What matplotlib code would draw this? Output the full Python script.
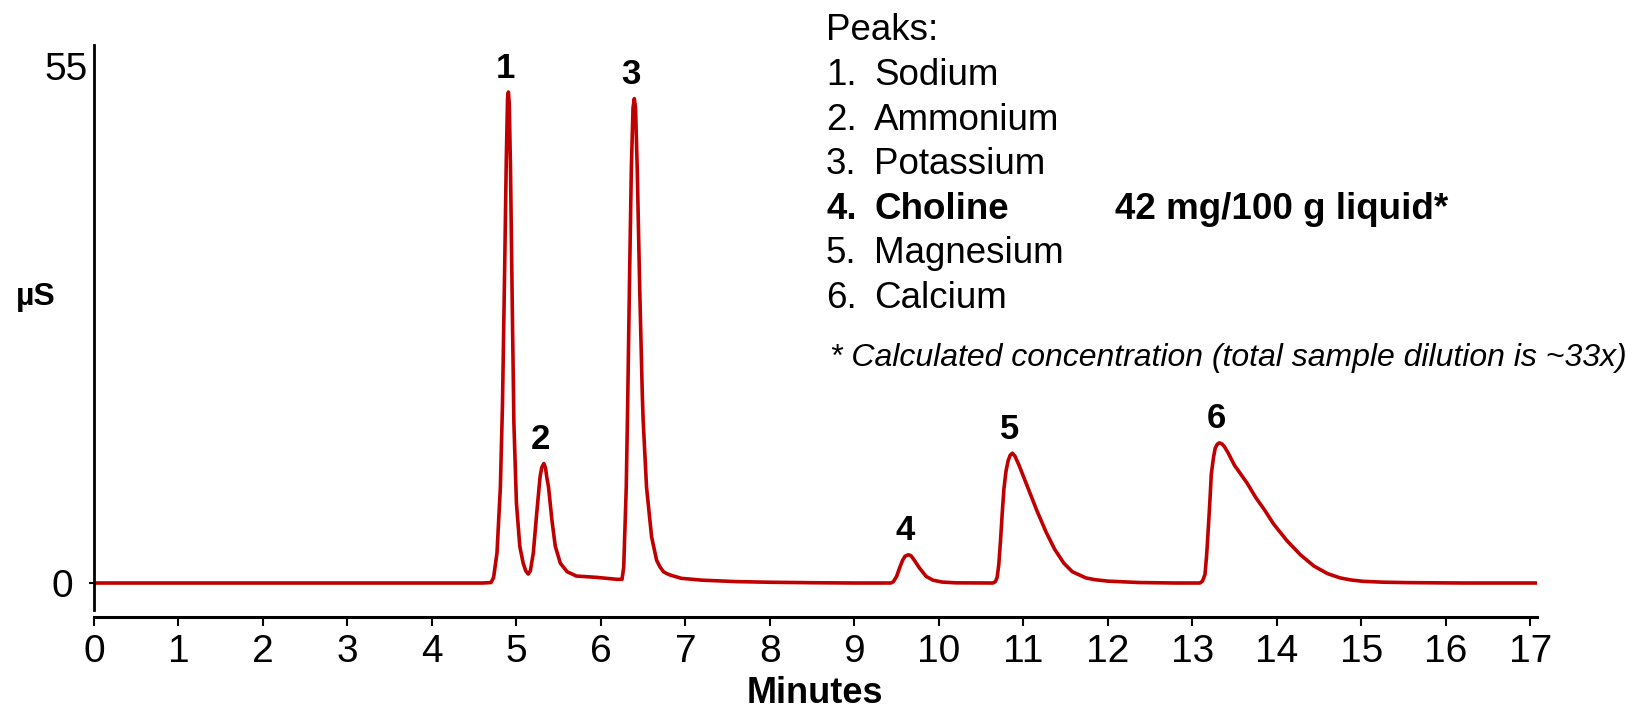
"""Cation chromatogram (conductivity vs. retention time) with peak legend."""
import matplotlib
matplotlib.use("Agg")
import matplotlib.pyplot as plt
from matplotlib.transforms import ScaledTranslation

plt.rcParams['font.family'] = ['Liberation Sans', 'DejaVu Sans']

# trace: retention time (min) and conductivity (uS)
TIME = [0.02, 1.0, 2.0, 3.0, 4.0, 4.60, 4.70, 4.73, 4.77, 4.81, 4.835, 4.86,
        4.88, 4.895, 4.905, 4.915, 4.93, 4.95, 4.97, 5.00, 5.04, 5.08, 5.11,
        5.14, 5.165, 5.20, 5.24, 5.28, 5.30, 5.325, 5.345, 5.36, 5.38, 5.42,
        5.46, 5.52, 5.60, 5.71, 5.95, 6.19, 6.25, 6.27, 6.30, 6.315, 6.34,
        6.36, 6.38, 6.395, 6.41, 6.43, 6.46, 6.49, 6.50, 6.54, 6.60, 6.66,
        6.70, 6.74, 6.78, 6.82, 6.95, 7.20, 7.60, 8.00, 8.50, 9.00, 9.43,
        9.46, 9.50, 9.535, 9.57, 9.60, 9.64, 9.67, 9.70, 9.77, 9.85, 9.93,
        10.04, 10.20, 10.64, 10.67, 10.69, 10.71, 10.73, 10.75, 10.77, 10.795,
        10.82, 10.845, 10.87, 10.90, 10.95, 11.05, 11.16, 11.27, 11.37, 11.48,
        11.58, 11.74, 11.85, 12.00, 12.37, 12.80, 13.09, 13.12, 13.15, 13.17,
        13.19, 13.21, 13.225, 13.25, 13.27, 13.295, 13.32, 13.35, 13.38, 13.42,
        13.46, 13.50, 13.54, 13.65, 13.75, 13.86, 13.96, 14.12, 14.28, 14.44,
        14.60, 14.75, 14.88, 15.02, 15.25, 15.55, 16.20, 17.08]
SIGNAL = [0.0, 0.0, 0.0, 0.0, 0.0, 0.0, 0.05, 0.6, 3.2, 10.2, 19.0, 33.0,
          45.0, 51.5, 52.2, 51.0, 44.0, 30.0, 17.0, 8.5, 3.9, 2.1, 1.3,
          0.95, 1.3, 3.2, 7.4, 11.3, 12.3, 12.7, 12.2, 11.2, 10.2, 6.7,
          3.9, 2.1, 1.2, 0.74, 0.6, 0.39, 0.39, 1.7, 10.2, 18.0, 33.0,
          44.0, 50.5, 51.5, 50.5, 44.0, 31.0, 20.0, 17.3, 10.2, 4.9, 2.4,
          1.7, 1.2, 1.0, 0.85, 0.5, 0.3, 0.15, 0.08, 0.03, 0.0, 0.0,
          0.12, 0.7, 1.6, 2.4, 2.85, 3.0, 2.9, 2.55, 1.6, 0.7, 0.3,
          0.1, 0.02, 0.0, 0.15, 0.6, 2.0, 4.5, 7.4, 10.0, 11.9,
          13.0, 13.6, 13.8, 13.5, 12.5, 10.2, 7.7, 5.4, 3.6, 2.1,
          1.2, 0.54, 0.35, 0.2, 0.05, 0.0, 0.0, 0.2, 0.9, 3.0,
          5.9, 9.0, 11.6, 13.3, 14.3, 14.75, 14.9, 14.8, 14.5, 13.9,
          13.2, 12.5, 12.0, 10.6, 9.1, 7.7, 6.3, 4.5, 3.0, 1.8,
          1.0, 0.54, 0.32, 0.18, 0.09, 0.04, 0.0, 0.0]

PEAK_TIME = [4.905, 5.325, 6.395, 9.64, 10.87, 13.32]
PEAK_HEIGHT = [52.2, 12.7, 51.5, 3.0, 13.8, 14.9]
PEAK_NUM = ["1", "2", "3", "4", "5", "6"]
PEAK_NAMES = ["Sodium", "Ammonium", "Potassium", "Choline", "Magnesium", "Calcium"]
CHOLINE_RESULT = "42 mg/100 g liquid*"
FOOTNOTE = "* Calculated concentration (total sample dilution is ~33x)"
X_TICKS = list(range(0, 18))
Y_TICKS = [0, 55]

W, H = 1626, 708
RED = "#C00000"

fig = plt.figure(figsize=(W / 100, H / 100), dpi=100)
ax = fig.add_axes([94 / W, 1 - 610 / H, (1537 - 94) / W, (610 - 45) / H])

ax.plot(TIME, SIGNAL, color=RED, lw=2.6, solid_joinstyle="round")
ax.set_xlim(0, 17.08)
ax.set_ylim(-2.87, 57.2)

for side in ("top", "right"):
    ax.spines[side].set_visible(False)
ax.spines["left"].set_linewidth(2.0)
ax.spines["bottom"].set_linewidth(2.2)
ax.spines["bottom"].set_position(("outward", 5))

ax.set_xticks(X_TICKS)
ax.set_yticks(Y_TICKS)
ax.tick_params(axis="x", direction="out", length=6.5, width=1.5,
               labelsize=28, pad=6)
ax.tick_params(axis="y", direction="out", length=3.6, width=1.5,
               labelsize=28, pad=0.8)
ax.yaxis.get_major_ticks()[1].tick1line.set_visible(False)
# the zero label sits further from the spine than the 55 label
zero_lbl = ax.get_yticklabels()[0]
zero_lbl.set_transform(zero_lbl.get_transform() +
                       ScaledTranslation(-15 / 100, 0, fig.dpi_scale_trans))

for num, t, h in zip(PEAK_NUM, PEAK_TIME, PEAK_HEIGHT):
    ax.annotate(num, (t, h), xytext=(-3, 24), textcoords="offset pixels",
                ha="center", va="center", fontsize=25, fontweight="bold")

fig.text(815 / W, 1 - 703 / H, "Minutes", ha="center", va="baseline",
         fontsize=26, fontweight="bold")
fig.text(36 / W, 1 - 297 / H, "µS", ha="center", va="center",
         fontsize=23, fontweight="bold")

# peak legend
LEG_SIZE = 26.5
fig.text(826 / W, 1 - 40 / H, "Peaks:", fontsize=LEG_SIZE, va="baseline")
for i, name in enumerate(PEAK_NAMES):
    yb = 1 - (85 + i * 44.6) / H
    weight = "bold" if name == "Choline" else "normal"
    fig.text(826 / W, yb, f"{i + 1}.", fontsize=LEG_SIZE, va="baseline",
             fontweight=weight)
    fig.text(874 / W, yb, name, fontsize=LEG_SIZE, va="baseline",
             fontweight=weight)
    if name == "Choline":
        fig.text(1115 / W, yb, CHOLINE_RESULT, fontsize=LEG_SIZE,
                 va="baseline", fontweight="bold")
fig.text(830 / W, 1 - 366 / H, FOOTNOTE, fontsize=23, style="italic",
         va="baseline")

fig.savefig("out.png", dpi=100)
